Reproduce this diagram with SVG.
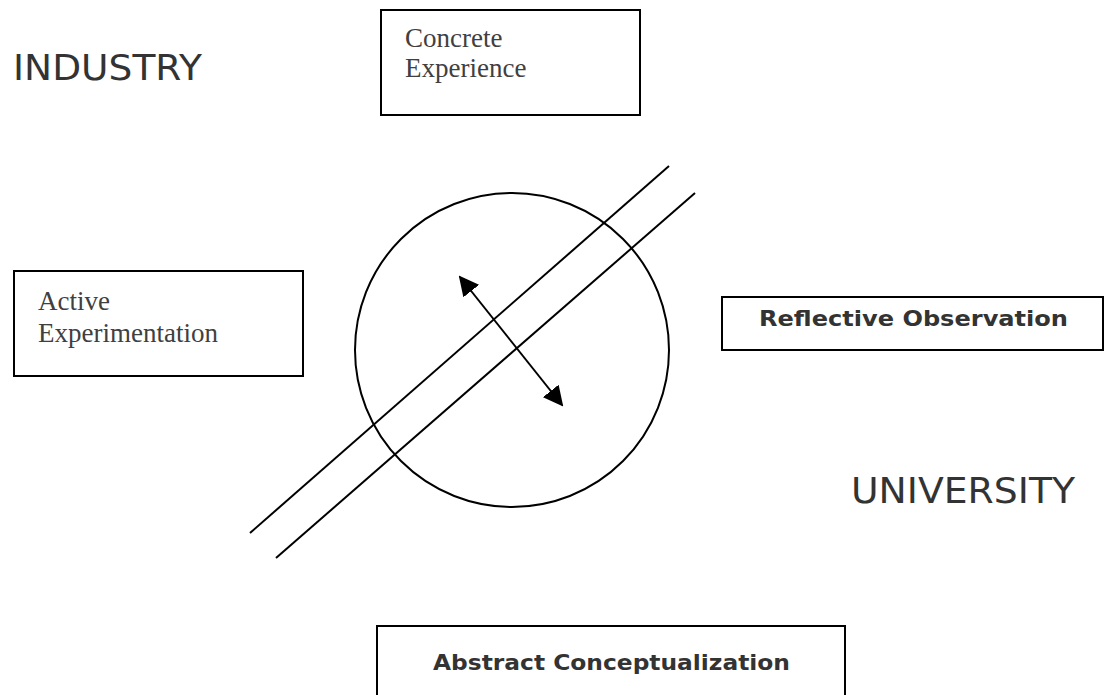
<svg xmlns="http://www.w3.org/2000/svg" width="1106" height="695" viewBox="0 0 1106 695">
<style>
.box{fill:#fff;stroke:#000;stroke-width:2}
.serif{font-family:"Liberation Serif","Times New Roman",serif;font-size:27px;fill:#404040}
.comic{font-family:"Comic Sans MS","DejaVu Sans",sans-serif;font-weight:bold;font-size:21px;fill:#333}
.label{font-family:"DejaVu Sans",Verdana,sans-serif;font-size:36px;fill:#333}
.ln{stroke:#000;stroke-width:2;fill:none}
</style>
<defs>
<marker id="ah" viewBox="0 0 10 10" refX="9" refY="5" markerWidth="20" markerHeight="20" markerUnits="userSpaceOnUse" orient="auto-start-reverse">
<path d="M0,0 L10,5 L0,10 z" fill="#000"/>
</marker>
</defs>
<rect width="1106" height="695" fill="#fff"/>
<g id="industry"><text class="label" x="13" y="80" textLength="189" lengthAdjust="spacingAndGlyphs">INDUSTRY</text></g>
<g id="university"><text class="label" x="851" y="503" textLength="224" lengthAdjust="spacingAndGlyphs">UNIVERSITY</text></g>
<g id="concrete-experience">
<rect class="box" x="381" y="10" width="259" height="105"/>
<text class="serif" x="405" y="47">Concrete</text>
<text class="serif" x="405" y="77">Experience</text>
</g>
<g id="active-experimentation">
<rect class="box" x="14" y="271" width="289" height="105"/>
<text class="serif" x="38" y="310">Active</text>
<text class="serif" x="38" y="342">Experimentation</text>
</g>
<g id="reflective-observation">
<rect class="box" x="722" y="297" width="381" height="53"/>
<text class="comic" x="759" y="326" textLength="309" lengthAdjust="spacingAndGlyphs">Reflective Observation</text>
</g>
<g id="abstract-conceptualization">
<rect class="box" x="377" y="626" width="468" height="100"/>
<text class="comic" x="433" y="670" textLength="357" lengthAdjust="spacingAndGlyphs">Abstract Conceptualization</text>
</g>
<g id="circle"><circle class="ln" cx="512" cy="350" r="157"/></g>
<g id="connectors">
<line class="ln" x1="669" y1="166" x2="250" y2="533"/>
<line class="ln" x1="695" y1="193" x2="276" y2="558"/>
<line class="ln" x1="460" y1="277" x2="562" y2="405" marker-start="url(#ah)" marker-end="url(#ah)"/>
</g>
</svg>
